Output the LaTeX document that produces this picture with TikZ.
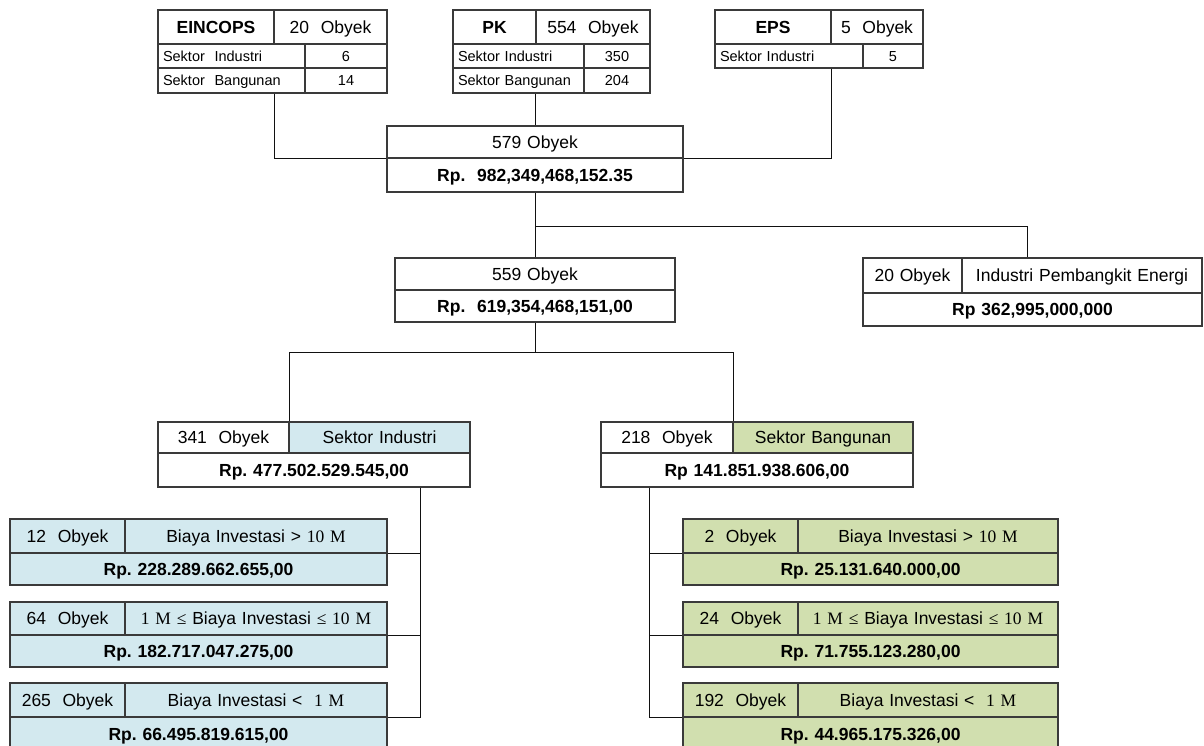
\documentclass[tikz,border=0pt]{standalone}
\usepackage{fontspec}
\setmainfont{Liberation Sans}
\newfontfamily\tnr{Liberation Serif}
\usetikzlibrary{calc}

\definecolor{lineclr}{HTML}{111111}
\definecolor{boxclr}{HTML}{3A3A3A}
\definecolor{indblue}{HTML}{D3E9EF}
\definecolor{bangreen}{HTML}{D1DFAF}

\tikzset{
  cell/.style={draw=boxclr, line width=1.1pt, inner ysep=0pt, inner xsep=5pt,
    align=center, text height=12.6pt, text depth=0pt,
    font=\fontsize{17.5}{20}\selectfont\frenchspacing},
  small/.style={text height=10.4pt, font=\fontsize{14.5}{17}\selectfont\frenchspacing},
  head/.style={font=\fontsize{17.5}{20}\selectfont\bfseries\frenchspacing},
  money/.style={font=\fontsize{17.5}{20}\selectfont\bfseries\frenchspacing},
  indfill/.style={fill=indblue},
  banfill/.style={fill=bangreen},
  link/.style={draw=lineclr, line width=0.9pt}
}

% one table cell: name, x1, y1, x2, y2, extra style, text
\newcommand\boxcell[7]{%
  \pgfmathsetmacro\cellt{#4-#2-10}%
  \pgfmathsetmacro\cellh{#5-#3}%
  \node[cell, minimum height=\cellh pt, text width=\cellt pt, #6] (#1)
    at ({(#2+#4)/2},{(#3+#5)/2}) {#7};}

\begin{document}
\begin{tikzpicture}[x=1pt, y=-1pt]
\clip (0,0) rectangle (1204,745);
\fill[white] (0,0) rectangle (1204,745);

% ---- source tables ----
\boxcell{einA}{158}{10}{274}{44}{head}{EINCOPS}
\boxcell{einB}{274}{10}{387}{44}{}{20~~Obyek}
\boxcell{einC}{158}{44}{305}{68}{small,align=left}{Sektor~~Industri}
\boxcell{einD}{305}{44}{387}{68}{small}{6}
\boxcell{einE}{158}{68}{305}{93}{small,align=left}{Sektor~~Bangunan}
\boxcell{einF}{305}{68}{387}{93}{small}{14}

\boxcell{pkA}{453}{10}{536}{44}{head}{PK}
\boxcell{pkB}{536}{10}{650}{44}{}{554~~Obyek}
\boxcell{pkC}{453}{44}{584}{68}{small,align=left}{Sektor Industri}
\boxcell{pkD}{584}{44}{650}{68}{small}{350}
\boxcell{pkE}{453}{68}{584}{93}{small,align=left}{Sektor Bangunan}
\boxcell{pkF}{584}{68}{650}{93}{small}{204}

\boxcell{epsA}{715}{10}{831}{44}{head}{EPS}
\boxcell{epsB}{831}{10}{923}{44}{}{5~~Obyek}
\boxcell{epsC}{715}{44}{863}{68}{small,align=left}{Sektor Industri}
\boxcell{epsD}{863}{44}{923}{68}{small}{5}

% ---- totals ----
\boxcell{totA}{387}{126}{683}{158}{}{579 Obyek}
\boxcell{totB}{387}{158}{683}{192}{money}{Rp.~~982,349,468,152.35}

\boxcell{sA}{395}{258}{675}{290}{}{559 Obyek}
\boxcell{sB}{395}{290}{675}{322}{money}{Rp.~~619,354,468,151,00}

\boxcell{peA}{863}{258}{962}{293}{}{20 Obyek}
\boxcell{peB}{962}{258}{1202}{293}{}{Industri Pembangkit Energi}
\boxcell{peC}{863}{293}{1202}{326}{money}{Rp 362,995,000,000}

% ---- sectors ----
\boxcell{indA}{158}{422}{289}{453}{}{341~~Obyek}
\boxcell{indB}{289}{422}{470}{453}{indfill}{Sektor Industri}
\boxcell{indC}{158}{453}{470}{487}{money}{Rp. 477.502.529.545,00}

\boxcell{banA}{601}{422}{733}{453}{}{218~~Obyek}
\boxcell{banB}{733}{422}{913}{453}{banfill}{Sektor Bangunan}
\boxcell{banC}{601}{453}{913}{487}{money}{Rp 141.851.938.606,00}

% ---- investment classes, industry ----
\boxcell{l1a}{10}{519}{125}{553}{indfill}{12~~Obyek}
\boxcell{l1b}{125}{519}{387}{553}{indfill}{Biaya Investasi > {\tnr 10 M}}
\boxcell{l1c}{10}{553}{387}{585}{indfill,money}{Rp. 228.289.662.655,00}

\boxcell{l2a}{10}{602}{125}{635}{indfill}{64~~Obyek}
\boxcell{l2b}{125}{602}{387}{635}{indfill}{{\tnr 1 M ≤} Biaya Investasi {\tnr ≤ 10 M}}
\boxcell{l2c}{10}{635}{387}{667}{indfill,money}{Rp. 182.717.047.275,00}

\boxcell{l3a}{10}{683}{125}{717}{indfill}{265~~Obyek}
\boxcell{l3b}{125}{683}{387}{717}{indfill}{Biaya Investasi <~~{\tnr 1 M}}
\boxcell{l3c}{10}{717}{387}{751}{indfill,money}{Rp. 66.495.819.615,00}

% ---- investment classes, building ----
\boxcell{r1a}{683}{519}{798}{553}{banfill}{2~~Obyek}
\boxcell{r1b}{798}{519}{1058}{553}{banfill}{Biaya Investasi > {\tnr 10 M}}
\boxcell{r1c}{683}{553}{1058}{585}{banfill,money}{Rp. 25.131.640.000,00}

\boxcell{r2a}{683}{602}{798}{635}{banfill}{24~~Obyek}
\boxcell{r2b}{798}{602}{1058}{635}{banfill}{{\tnr 1 M ≤} Biaya Investasi {\tnr ≤ 10 M}}
\boxcell{r2c}{683}{635}{1058}{667}{banfill,money}{Rp. 71.755.123.280,00}

\boxcell{r3a}{683}{683}{798}{717}{banfill}{192~~Obyek}
\boxcell{r3b}{798}{683}{1058}{717}{banfill}{Biaya Investasi <~~{\tnr 1 M}}
\boxcell{r3c}{683}{717}{1058}{751}{banfill,money}{Rp. 44.965.175.326,00}

% ---- connectors ----
\draw[link] (einF.south -| einA.south east) |- (totA.south west);
\draw[link] (pkF.south -| totA.north) -- (totA.north);
\draw[link] (epsD.south -| epsA.south east) |- (totA.south east);

\draw[link] (totB.south) -- ++(0,34) coordinate (jTop);
\draw[link] (jTop) -- (sA.north);
\coordinate (peTap) at ($(peB.north west -| peA.west)!0.485!(peB.north east)$);
\draw[link] (jTop) -| (peTap);

\draw[link] (sB.south) -- ++(0,30) coordinate (jMid);
\draw[link] (indA.north east) |- (jMid) -| (banA.north east);

\coordinate (lbus) at ($(indC.south west)!0.84!(indC.south east)$);
\draw[link] (lbus) |- (l3b.south east);
\draw[link] (l1b.south east) -- (l1b.south east -| lbus);
\draw[link] (l2b.south east) -- (l2b.south east -| lbus);

\coordinate (rbus) at ($(banC.south west)!0.157!(banC.south east)$);
\draw[link] (rbus) |- (r3a.south west);
\draw[link] (r1a.south west) -- (r1a.south west -| rbus);
\draw[link] (r2a.south west) -- (r2a.south west -| rbus);
\end{tikzpicture}
\end{document}
